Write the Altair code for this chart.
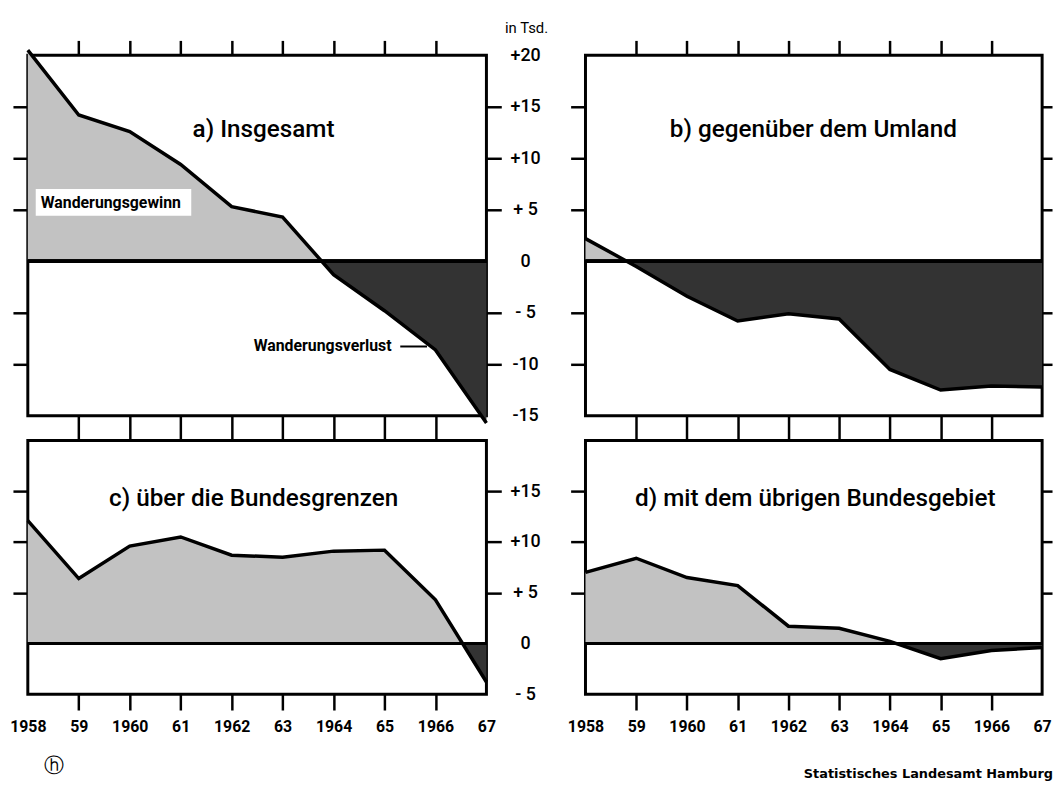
import altair as alt
import pandas as pd

# ---------------- data ----------------
years = [1958, 1959, 1960, 1961, 1962, 1963, 1964, 1965, 1966, 1967]
year_labels = ["1958", "59", "1960", "61", "1962", "63", "1964", "65", "1966", "67"]

insgesamt = [20.5, 14.2, 12.6, 9.4, 5.3, 4.3, -1.3, -4.8, -8.6, -15.7]
umland = [2.2, -0.5, -3.4, -5.8, -5.1, -5.6, -10.5, -12.5, -12.1, -12.2]
bundesgrenzen = [12.1, 6.4, 9.6, 10.5, 8.7, 8.5, 9.1, 9.2, 4.3, -3.8]
bundesgebiet = [7.0, 8.4, 6.5, 5.7, 1.7, 1.5, 0.2, -1.5, -0.7, -0.4]

panel_titles = ["a)   Insgesamt", "b)  gegenüber  dem  Umland",
                "c)  über die Bundesgrenzen", "d)  mit dem übrigen Bundesgebiet"]

top_ticks = [20, 15, 10, 5, 0, -5, -10, -15]
top_tick_labels = ["+20", "+15", "+10", "+ 5", "0", "- 5", "-10", "-15"]
top_tick_marks = [15, 10, 5, -5, -10]
bottom_ticks = [15, 10, 5, 0, -5]
bottom_tick_labels = ["+15", "+10", "+ 5", "0", "- 5"]
bottom_tick_marks = [15, 10, 5]

FONT = "Roboto"
LIGHT = "#c2c2c2"
DARK = "#333333"


def label_expr(values, labels):
    expr = "''"
    for v, l in reversed(list(zip(values, labels))):
        expr = f"datum.value == {v} ? '{l}' : ({expr})"
    return expr


def hide_cond(shown):
    test = " && ".join(f"datum.value != {v}" for v in shown)
    return {"condition": {"test": test, "value": 0}, "value": 1}


def text_layer(txt, x, y, size, weight="bold", align="left", font=FONT):
    return alt.Chart(pd.DataFrame({"t": [txt]})).mark_text(
        font=font, fontSize=size, fontWeight=weight, align=align,
        baseline="middle", color="black"
    ).encode(text="t:N", x=alt.value(x), y=alt.value(y))


def panel(values, ydom, width, height, title, title_xy, left_side, top_row,
          ticks, tick_labels, tick_marks, extras=None):
    df = pd.DataFrame({"year": years, "value": values})
    ymax = max(max(values), 0)
    ymin = min(min(values), 0)
    t = ymax / (ymax - ymin)
    grad = alt.Gradient(
        gradient="linear", x1=0, x2=0, y1=0, y2=1,
        stops=[alt.GradientStop(color=LIGHT, offset=0),
               alt.GradientStop(color=LIGHT, offset=t),
               alt.GradientStop(color=DARK, offset=t),
               alt.GradientStop(color=DARK, offset=1)])
    xs = alt.Scale(domain=[years[0], years[-1]], nice=False, zero=False)
    ys = alt.Scale(domain=ydom, nice=False, zero=False)

    inner_years = years[1:-1]
    if top_row:
        x_axis_a = alt.Axis(orient="top", values=inner_years, labels=False,
                            tickSize=15, title=None)
        x_axis_b = alt.Axis(orient="bottom", values=inner_years, labels=False,
                            tickSize=25, title=None)
    else:
        x_axis_a = None
        x_axis_b = alt.Axis(orient="bottom", values=years,
                            labelExpr=label_expr(years, year_labels),
                            tickSize=16, tickOpacity=hide_cond(inner_years),
                            labelPadding=9, labelFontSize=16, labelOverlap=False,
                            labelFlush=False, labelFontWeight="bold", title=None)

    y_axis_left = alt.Axis(orient="left", values=tick_marks, labels=False,
                           tickSize=15, title=None)
    if left_side:
        kw = dict(orient="right", values=ticks,
                  labelExpr=label_expr(ticks, tick_labels),
                  tickSize=15, tickOpacity=hide_cond(tick_marks),
                  labelAlign="center", labelPadding=24, labelFontSize=18,
                  labelFontWeight=500, labelBaseline="middle", labelOverlap=False,
                  labelFlush=False)
        if top_row:
            kw.update(title="in Tsd.", titleAngle=0, titleX=40, titleY=-28,
                      titleAlign="center", titleBaseline="middle",
                      titleFontSize=15, titleFontWeight="normal", titleFont=FONT)
        else:
            kw.update(title=None)
        y_axis_right = alt.Axis(**kw)
    else:
        y_axis_right = alt.Axis(orient="right", values=tick_marks, labels=False,
                                tickSize=10, title=None)

    base = alt.Chart(df)
    area = base.mark_area(color=grad).encode(
        x=alt.X("year:Q", scale=xs, axis=x_axis_a),
        y=alt.Y("value:Q", scale=ys, axis=y_axis_left, stack=None),
        y2=alt.datum(0),
    )
    zero = base.mark_rule(color="black", strokeWidth=3).encode(
        y=alt.YDatum(0, axis=None)
    )
    line = base.mark_line(color="black", strokeWidth=3.5).encode(
        x=alt.X("year:Q", scale=xs, axis=x_axis_b),
        y=alt.Y("value:Q", scale=ys, axis=y_axis_right),
    )
    ttl = text_layer(title, title_xy[0], title_xy[1], 24.5, weight=500, align="center")

    layers = [area, zero, line, ttl]
    if extras:
        layers += extras
    return alt.layer(*layers).resolve_axis(x="independent", y="independent") \
        .properties(width=width, height=height)


# annotations
gewinn_box = alt.Chart(pd.DataFrame({"t": [0]})).mark_rect(color="white").encode(
    x=alt.value(8), x2=alt.value(165), y=alt.value(135), y2=alt.value(162)
)
gewinn_text = text_layer("Wanderungsgewinn", 13, 149, 16)
verlust_text = text_layer("Wanderungsverlust", 228, 294, 16)
verlust_dash = alt.Chart(pd.DataFrame({"t": [0]})).mark_rule(
    color="black", strokeWidth=2
).encode(x=alt.value(376), x2=alt.value(403), y=alt.value(294))
source_text = text_layer("Statistisches Landesamt Hamburg", 472, 337, 13,
                         align="right", font="DejaVu Sans")
h_text = text_layer("ⓗ", 26, 329, 20, weight="normal", align="center",
                    font="DejaVu Sans")

pa = panel(insgesamt, [-15, 20], 463, 364, panel_titles[0], (238, 76), True, True,
           top_ticks, top_tick_labels, top_tick_marks,
           extras=[gewinn_box, gewinn_text, verlust_text, verlust_dash])
pb = panel(umland, [-15, 20], 461, 364, panel_titles[1], (230, 76), False, True,
           top_ticks, top_tick_labels, top_tick_marks)
pc = panel(bundesgrenzen, [-5, 20], 463, 256, panel_titles[2], (228, 59), True, False,
           bottom_ticks, bottom_tick_labels, bottom_tick_marks, extras=[h_text])
pd_ = panel(bundesgebiet, [-5, 20], 461, 256, panel_titles[3], (232, 59), False, False,
            bottom_ticks, bottom_tick_labels, bottom_tick_marks, extras=[source_text])

chart = alt.concat(
    pa, pb, pc, pd_, columns=2,
    spacing=alt.RowColnumber(row=25, column=100), bounds="flush"
).properties(
    padding={"left": 0, "top": 7, "right": 0, "bottom": 0},
    background="white",
).configure(font=FONT).configure_view(
    stroke="black", strokeWidth=3
).configure_axis(
    domain=False, grid=False, tickColor="black", tickWidth=2.5,
    labelColor="black", labelFont=FONT, titleColor="black"
)

chart.save("out.html", embed_options={"renderer": "svg", "actions": False})
